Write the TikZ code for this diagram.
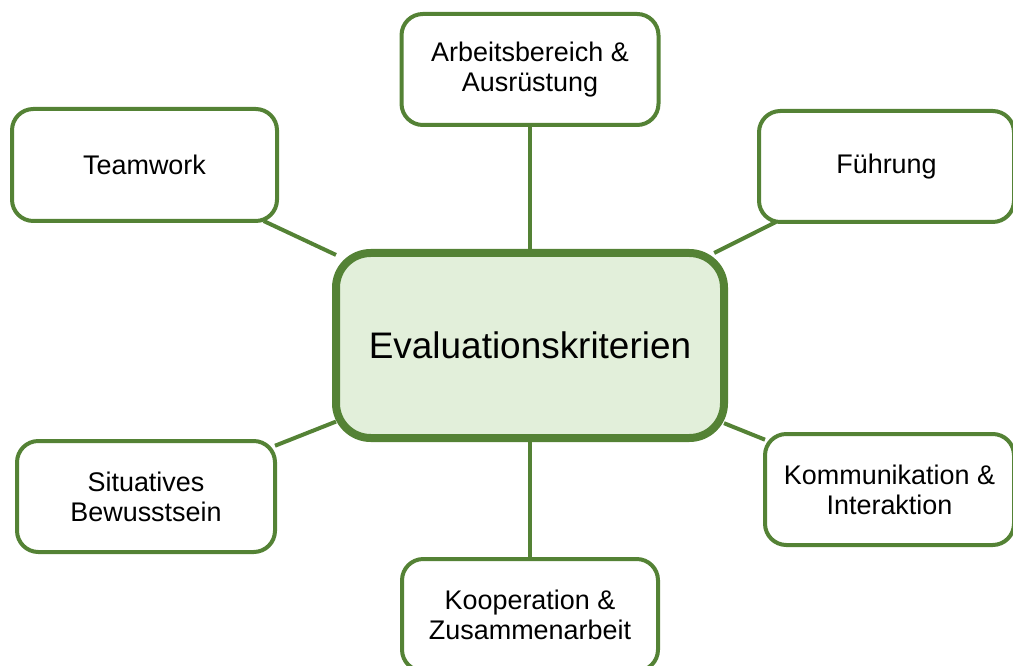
\documentclass[tikz,border=0pt]{standalone}
\usepackage{fontspec}
\setmainfont{Liberation Sans}
\definecolor{grn}{RGB}{84,130,53}
\definecolor{lgrn}{RGB}{226,239,218}
\begin{document}
\begin{tikzpicture}[x=0.75pt,y=-0.75pt,
 box/.style={draw=grn, line width=3pt, rounded corners=16pt, fill=white, align=center,
   inner sep=0pt, outer sep=0pt, font=\fontsize{20.2}{22.5}\selectfont},
 hub/.style={draw=grn, line width=6pt, rounded corners=26pt, fill=lgrn, align=center,
   inner sep=0pt, outer sep=0pt, font=\fontsize{27.7}{33}\selectfont},
 link/.style={draw=grn, line width=3pt}]
\path[use as bounding box, clip] (0,0) rectangle (1013,666);
\node[hub, minimum width=291pt, minimum height=138.75pt] (ev) at (530,345.5) {Evaluationskriterien};
\node[box, minimum width=192.75pt, minimum height=83.25pt] (ab) at (530,69.5) {Arbeitsbereich \&\\Ausrüstung};
\node[box, minimum width=198.75pt, minimum height=84pt] (tw) at (144.5,165) {Teamwork};
\node[box, minimum width=191.25pt, minimum height=83.25pt] (fu) at (886.5,166.5) {Führung};
\node[box, minimum width=193.5pt, minimum height=83.25pt] (si) at (146,496.5) {Situatives\\Bewusstsein};
\node[box, minimum width=186.75pt, minimum height=83.25pt] (ko) at (889.5,489.5) {Kommunikation \&\\Interaktion};
\node[box, minimum width=192pt, minimum height=84pt] (kp) at (530,615) {Kooperation \&\\Zusammenarbeit};
\draw[link] (ab) -- (ev);
\draw[link] (kp) -- (ev);
\draw[link] (tw) -- (ev);
\draw[link] (fu) -- (ev);
\draw[link] (si) -- (ev);
\draw[link] (ko) -- (ev);
\end{tikzpicture}
\end{document}
